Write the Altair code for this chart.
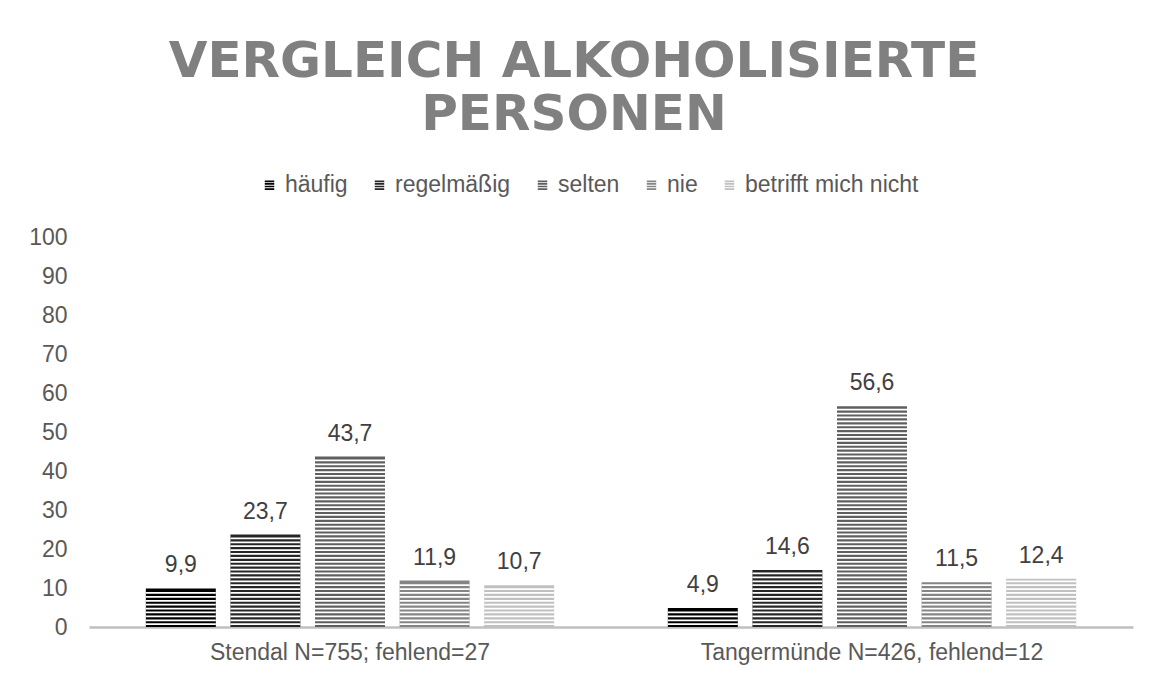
import altair as alt
import pandas as pd

groups = ["Stendal N=755; fehlend=27", "Tangermünde N=426, fehlend=12"]
series = ["häufig", "regelmäßig", "selten", "nie", "betrifft mich nicht"]
stendal = [9.9, 23.7, 43.7, 11.9, 10.7]
tangermuende = [4.9, 14.6, 56.6, 11.5, 12.4]
colors = ["#000000", "#262626", "#5f5f5f", "#858585", "#c0c0c0"]
y_ticks = [0, 10, 20, 30, 40, 50, 60, 70, 80, 90, 100]
title_lines = ["VERGLEICH ALKOHOLISIERTE", "PERSONEN"]

rows = []
for g, vals in zip(groups, [stendal, tangermuende]):
    for s, v in zip(series, vals):
        rows.append({"group": g, "series": s, "value": v})
df = pd.DataFrame(rows)

FONT = "Liberation Sans"
STRIPE_SYMBOL = ("M-1,-0.9H1V-0.55H-1Z M-1,-0.35H1V0H-1Z "
                 "M-1,0.2H1V0.55H-1Z M-1,0.75H1V1.1H-1Z")

x_axis = alt.Axis(labelAngle=0, labelFontSize=23, labelColor="#595959",
                  labelFont=FONT, labelPadding=14, ticks=False,
                  labelLimit=0, domainColor="#bfbfbf", domainWidth=2.5)
y_axis = alt.Axis(values=y_ticks, domain=False, ticks=False, grid=False,
                  labelOverlap=False, labelFontSize=23, labelColor="#595959",
                  labelFont=FONT, labelPadding=22)
x_scale = alt.Scale(paddingInner=0, paddingOuter=0)
xo_scale = alt.Scale(paddingInner=0.173, paddingOuter=0.672)
y_scale = alt.Scale(domain=[0, 100], nice=False)


def x_enc():
    return alt.X("group:N", sort=groups, title=None, scale=x_scale, axis=x_axis)


def xo_enc():
    return alt.XOffset("series:N", sort=series, scale=xo_scale)


base = alt.Chart(df)

bars = base.mark_bar().encode(
    x=x_enc(),
    xOffset=xo_enc(),
    y=alt.Y("value:Q", scale=y_scale, title=None, axis=y_axis),
    color=alt.Color("series:N", sort=series,
                    scale=alt.Scale(domain=series, range=colors),
                    legend=alt.Legend(title=None, orient="none", direction="horizontal",
                                      columns=5, legendX=169, legendY=-64,
                                      symbolType=STRIPE_SYMBOL, symbolSize=90,
                                      symbolStrokeWidth=0, labelFontSize=23,
                                      labelFont=FONT, labelColor="#595959",
                                      labelLimit=0,
                                      labelOffset=4, columnPadding=20, padding=0)),
)

stripes = base.transform_calculate(
    k="sequence(0, datum.value - 0.9, 1)"
).transform_flatten(["k"]).transform_calculate(
    s1="datum.k + 0.5", s2="datum.k + 0.95"
).mark_bar(color="white").encode(
    x=x_enc(),
    xOffset=xo_enc(),
    y=alt.Y("s1:Q", scale=y_scale, title=None, axis=y_axis),
    y2="s2:Q",
)

labels = base.transform_calculate(
    label="replace(format(datum.value, '.1f'), '.', ',')"
).mark_text(baseline="bottom", dy=-11, fontSize=23, font=FONT, color="#404040").encode(
    x=x_enc(),
    xOffset=xo_enc(),
    y=alt.Y("value:Q", scale=y_scale, title=None, axis=y_axis),
    text="label:N",
)

chart = alt.layer(bars, stripes, labels).properties(
    width=1044,
    height=390,
    padding={"left": 81, "top": 229, "right": 9, "bottom": 50},
    autosize=alt.AutoSizeParams(type="none"),
    background="white",
    title=alt.TitleParams(text=title_lines, fontSize=50, font="DejaVu Sans",
                          fontWeight="bold", color="#808080", lineHeight=53,
                          anchor="middle", offset=33, dx=-37),
).configure_view(strokeWidth=0, stroke=None)

chart.save("out.html", embed_options={"renderer": "svg", "actions": False})
